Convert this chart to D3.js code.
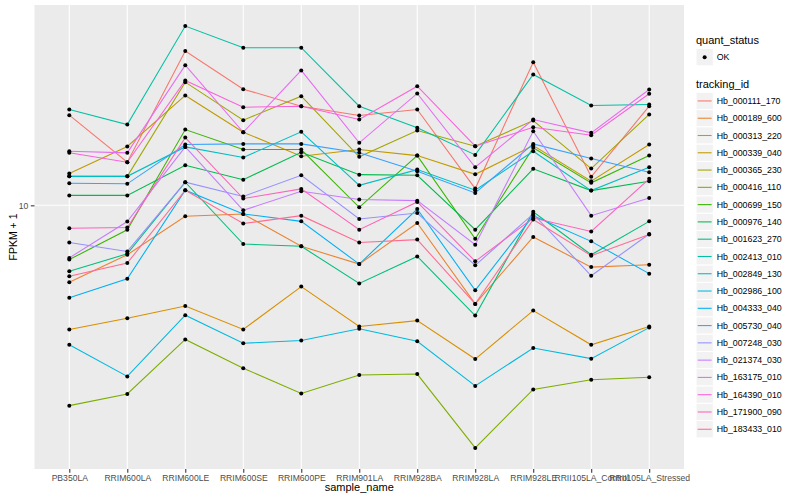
<!DOCTYPE html>
<html>
<head>
<meta charset="utf-8">
<script src="https://cdn.jsdelivr.net/npm/d3@7"></script>
<style>
  body { margin: 0; background: #fff; }
  text { font-family: "Liberation Sans", Arial, Helvetica, sans-serif; }
</style>
</head>
<body>
<div id="chart"></div>
<script>
const samples = ['PB350LA', 'RRIM600LA', 'RRIM600LE', 'RRIM600SE', 'RRIM600PE', 'RRIM901LA',
  'RRIM928BA', 'RRIM928LA', 'RRIM928LE', 'RRII105LA_Control', 'RRII105LA_Stressed'];

const trackingIds = ['Hb_000111_170', 'Hb_000189_600', 'Hb_000313_220', 'Hb_000339_040', 'Hb_000365_230',
  'Hb_000416_110', 'Hb_000699_150', 'Hb_000976_140', 'Hb_001623_270', 'Hb_002413_010', 'Hb_002849_130',
  'Hb_002986_100', 'Hb_004333_040', 'Hb_005730_040', 'Hb_007248_030', 'Hb_021374_030', 'Hb_163175_010',
  'Hb_164390_010', 'Hb_171900_090', 'Hb_183433_010'];

const colors = ['#F8766D', '#EA8331', '#D89000', '#C09B00', '#A3A500', '#7CAE00', '#39B600', '#00BB4E',
  '#00BF7D', '#00C1A3', '#00BFC4', '#00BAE0', '#00B0F6', '#35A2FF', '#9590FF', '#C77CFF', '#E76BF3',
  '#FA62DB', '#FF62BC', '#FF6C91'];

// FPKM + 1 per sample
const hb_000111_170 = [16.38, 12.66, 23.27, 18.89, 17.21, 16.35, 16.90, 10.96, 21.90, 11.69, 17.21];
const hb_000189_600 = [6.56, 7.63, 9.42, 9.54, 7.99, 7.25, 9.08, 5.83, 8.41, 7.13, 7.22];
const hb_000313_220 = [5.07, 5.39, 5.76, 5.07, 6.41, 5.15, 5.32, 4.31, 5.62, 4.66, 5.15];
const hb_000339_040 = [11.90, 13.80, 18.25, 14.92, 13.08, 13.57, 13.13, 11.85, 13.87, 11.41, 13.95];
const hb_000365_230 = [11.72, 11.72, 19.63, 15.94, 18.18, 13.04, 15.06, 13.82, 15.91, 12.23, 16.45];
const hb_000416_110 = [3.34, 3.56, 4.80, 4.10, 3.57, 3.95, 3.97, 2.65, 3.65, 3.85, 3.90];
const hb_000699_150 = [7.43, 8.75, 15.14, 13.57, 13.57, 9.89, 13.13, 8.33, 13.70, 11.31, 13.13];
const hb_000976_140 = [10.56, 10.56, 12.45, 11.51, 13.37, 11.83, 11.79, 8.75, 12.21, 10.84, 11.41];
const hb_001623_270 = [6.97, 7.67, 11.35, 8.09, 7.99, 6.52, 7.56, 5.47, 9.65, 7.63, 9.16];
const hb_002413_010 = [16.90, 15.56, 26.68, 23.70, 23.70, 17.21, 15.29, 13.18, 20.47, 17.27, 17.37];
const hb_002849_130 = [11.72, 11.72, 13.77, 12.99, 14.96, 11.16, 12.16, 10.86, 13.45, 10.84, 12.32];
const hb_002986_100 = [4.66, 3.92, 5.48, 4.70, 4.77, 5.09, 4.75, 3.72, 4.58, 4.32, 5.12];
const hb_004333_040 = [6.03, 6.69, 10.86, 9.54, 9.16, 7.25, 9.80, 6.28, 9.45, 8.21, 6.88];
const hb_005730_040 = [11.28, 11.25, 13.95, 14.00, 14.00, 13.33, 12.05, 10.70, 14.00, 12.92, 11.99];
const hb_007248_030 = [8.16, 7.77, 11.35, 10.50, 11.79, 9.28, 9.59, 7.20, 9.54, 6.80, 8.55];
const hb_021374_030 = [7.50, 9.15, 13.77, 9.73, 10.80, 10.32, 10.26, 8.06, 15.00, 9.45, 10.41];
const hb_163175_010 = [13.45, 13.33, 21.54, 14.92, 20.93, 14.08, 18.45, 12.32, 16.00, 14.87, 18.86];
const hb_164390_010 = [13.33, 12.66, 19.81, 17.11, 17.21, 16.00, 19.20, 13.82, 15.34, 14.68, 18.42];
const hb_171900_090 = [8.82, 8.86, 14.49, 10.38, 10.94, 8.75, 10.19, 7.36, 9.33, 8.67, 11.56];
const hb_183433_010 = [6.78, 7.29, 10.86, 9.05, 9.45, 8.16, 8.29, 5.83, 9.25, 7.59, 8.52];

const seriesValues = [hb_000111_170, hb_000189_600, hb_000313_220, hb_000339_040, hb_000365_230,
  hb_000416_110, hb_000699_150, hb_000976_140, hb_001623_270, hb_002413_010, hb_002849_130,
  hb_002986_100, hb_004333_040, hb_005730_040, hb_007248_030, hb_021374_030, hb_163175_010,
  hb_164390_010, hb_171900_090, hb_183433_010];

const yTicks = [10];

const series = trackingIds.map((id, i) => ({
  id: id,
  color: colors[i],
  points: samples.map((s, j) => ({ sample: s, value: seriesValues[i][j] }))
}));

const width = 800;
const height = 500;
const panel = { left: 34.5, right: 684, top: 5, bottom: 469 };

const svg = d3.select('#chart')
  .append('svg')
  .attr('width', width)
  .attr('height', height);

svg.append('rect').attr('width', width).attr('height', height).attr('fill', '#fff');

const x = d3.scalePoint()
  .domain(samples)
  .range([panel.left, panel.right])
  .padding(0.6);

// log scale with ggplot-like 5% expansion
const allVals = seriesValues.flat();
const l0 = Math.log10(d3.min(allVals));
const l1 = Math.log10(d3.max(allVals));
const pad = (l1 - l0) * 0.05;
const y = d3.scaleLog()
  .domain([Math.pow(10, l0 - pad), Math.pow(10, l1 + pad)])
  .range([panel.bottom, panel.top]);

// panel background
svg.append('rect')
  .attr('x', panel.left)
  .attr('y', panel.top)
  .attr('width', panel.right - panel.left)
  .attr('height', panel.bottom - panel.top)
  .attr('fill', '#EBEBEB');

// grid
svg.append('g')
  .selectAll('line')
  .data(samples)
  .enter()
  .append('line')
  .attr('x1', d => x(d)).attr('x2', d => x(d))
  .attr('y1', panel.top).attr('y2', panel.bottom)
  .attr('stroke', '#fff').attr('stroke-width', 1.07);

svg.append('g')
  .selectAll('line')
  .data(yTicks)
  .enter()
  .append('line')
  .attr('x1', panel.left).attr('x2', panel.right)
  .attr('y1', d => y(d)).attr('y2', d => y(d))
  .attr('stroke', '#fff').attr('stroke-width', 1.07);

// lines
const line = d3.line()
  .x(d => x(d.sample))
  .y(d => y(d.value));

svg.append('g')
  .selectAll('path')
  .data(series)
  .enter()
  .append('path')
  .attr('fill', 'none')
  .attr('stroke', d => d.color)
  .attr('stroke-width', 1.07)
  .attr('d', d => line(d.points));

// points
svg.append('g')
  .selectAll('circle')
  .data(series.flatMap(s => s.points))
  .enter()
  .append('circle')
  .attr('cx', d => x(d.sample))
  .attr('cy', d => y(d.value))
  .attr('r', 2)
  .attr('fill', '#000');

// axes
const xAxis = svg.append('g')
  .attr('transform', `translate(0,${panel.bottom})`)
  .call(d3.axisBottom(x).tickSize(3.7).tickPadding(2.2));
xAxis.select('.domain').remove();
xAxis.selectAll('line').attr('stroke', '#333').attr('stroke-width', 1.07);
xAxis.selectAll('text')
  .attr('fill', '#4D4D4D')
  .style('font-size', '8.6px')
  .style('font-family', '"Liberation Sans", Arial, sans-serif');

const yAxis = svg.append('g')
  .attr('transform', `translate(${panel.left},0)`)
  .call(d3.axisLeft(y).tickValues(yTicks).tickFormat(d3.format('d')).tickSize(3.7).tickPadding(2.4));
yAxis.select('.domain').remove();
yAxis.selectAll('line').attr('stroke', '#333').attr('stroke-width', 1.07);
yAxis.selectAll('text')
  .attr('fill', '#4D4D4D')
  .style('font-size', '8.6px')
  .style('font-family', '"Liberation Sans", Arial, sans-serif');

// axis titles
svg.append('text')
  .attr('x', (panel.left + panel.right) / 2)
  .attr('y', 491)
  .attr('text-anchor', 'middle')
  .style('font-size', '11px')
  .text('sample_name');

svg.append('text')
  .attr('transform', `translate(16.5,${(panel.top + panel.bottom) / 2}) rotate(-90)`)
  .attr('text-anchor', 'middle')
  .style('font-size', '10.5px')
  .text('FPKM + 1');

// legend: quant_status
const legX = 696;
svg.append('text')
  .attr('x', legX).attr('y', 44)
  .style('font-size', '11px')
  .text('quant_status');

svg.append('rect')
  .attr('x', legX).attr('y', 48.5)
  .attr('width', 17.3).attr('height', 17.3)
  .attr('fill', '#F2F2F2').attr('stroke', '#fff');
svg.append('circle')
  .attr('cx', legX + 8.65).attr('cy', 57.15)
  .attr('r', 2).attr('fill', '#000');
svg.append('text')
  .attr('x', 716.7).attr('y', 57.15)
  .attr('dy', '0.35em')
  .style('font-size', '8.8px')
  .text('OK');

// legend: tracking_id
svg.append('text')
  .attr('x', legX).attr('y', 87.5)
  .style('font-size', '11px')
  .text('tracking_id');

const keyStep = 17.28;
const keys = svg.append('g')
  .selectAll('g')
  .data(series)
  .enter()
  .append('g')
  .attr('transform', (d, i) => `translate(${legX},${92.3 + i * keyStep})`);

keys.append('rect')
  .attr('width', 17.3).attr('height', keyStep)
  .attr('fill', '#F2F2F2').attr('stroke', '#fff');
keys.append('line')
  .attr('x1', 1.7).attr('x2', 15.6)
  .attr('y1', keyStep / 2).attr('y2', keyStep / 2)
  .attr('stroke', d => d.color).attr('stroke-width', 1.07);
keys.append('text')
  .attr('x', 716.7 - legX).attr('y', keyStep / 2)
  .attr('dy', '0.35em')
  .style('font-size', '8.8px')
  .text(d => d.id);
</script>
</body>
</html>
